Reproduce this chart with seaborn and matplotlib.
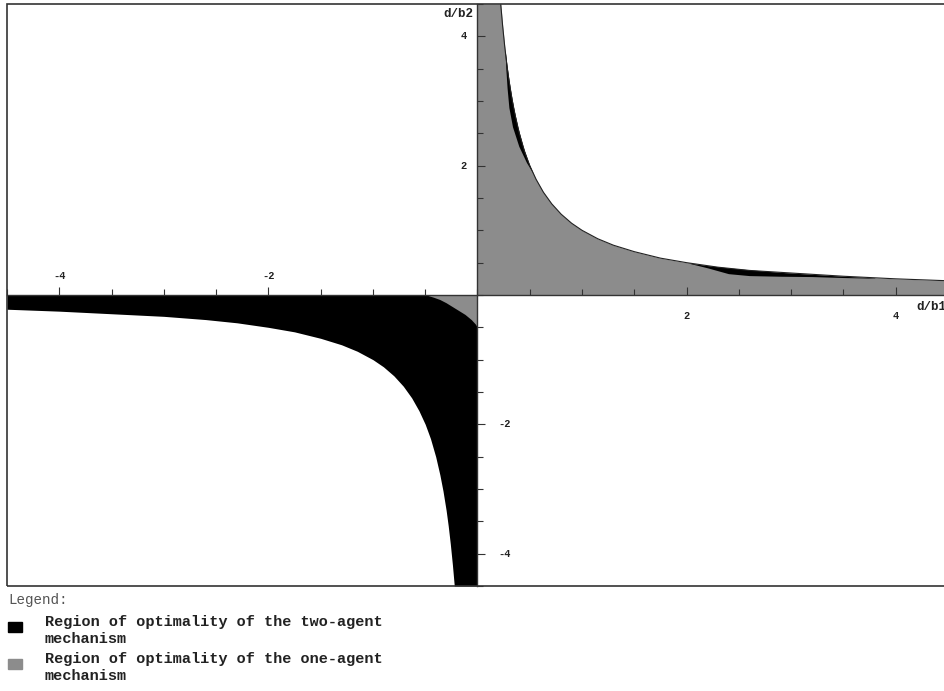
import numpy as np
import matplotlib
matplotlib.use("Agg")
import matplotlib.pyplot as plt
import seaborn as sns
from matplotlib.ticker import MultipleLocator, FixedLocator
from matplotlib.patches import Rectangle

# boundary d/b2 = f(d/b1) in first quadrant
q1_x = [0.0, 0.222, 0.24, 0.26, 0.28, 0.30, 0.33, 0.36, 0.40, 0.45, 0.50, 0.56, 0.63,
        0.71, 0.80, 0.90, 1.00, 1.15, 1.30, 1.50, 1.75, 2.00, 2.30, 2.60, 3.00,
        3.50, 4.00, 4.50]
q1_y = [4.5, 4.5, 4.17, 3.85, 3.57, 3.33, 3.03, 2.78, 2.50, 2.22, 2.00, 1.79, 1.59,
        1.41, 1.25, 1.11, 1.00, 0.87, 0.77, 0.67, 0.57, 0.50, 0.43, 0.38, 0.34,
        0.29, 0.25, 0.22]

# lower edge of the two-agent region in third quadrant
q3_x = [-4.5, -4.0, -3.5, -3.0, -2.6, -2.3, -2.0, -1.75, -1.5, -1.3, -1.15, -1.0,
        -0.9, -0.8, -0.71, -0.63, -0.56, -0.5, -0.45, -0.4, -0.36, -0.33, -0.3,
        -0.28, -0.26, -0.24, -0.222, 0.0]
q3_y = [-0.22, -0.25, -0.29, -0.33, -0.38, -0.43, -0.5, -0.57, -0.67, -0.77, -0.87,
        -1.0, -1.11, -1.25, -1.41, -1.59, -1.79, -2.0, -2.22, -2.5, -2.78, -3.03,
        -3.33, -3.57, -3.85, -4.17, -4.5, -4.5]

# small one-agent patch next to the origin
patch_x = [-0.49, -0.42, -0.36, -0.30, -0.24, -0.18, -0.12, -0.06, -0.02, 0.0]
patch_y = [0.0, -0.035, -0.07, -0.12, -0.18, -0.24, -0.30, -0.38, -0.45, -0.5]

# black slivers along the curve in the first quadrant
sl1_y = [3.80, 3.50, 3.20, 2.90, 2.60, 2.30, 2.05, 1.88]
sl1_xl = [0.263, 0.271, 0.283, 0.300, 0.335, 0.395, 0.468, 0.532]
sl1_xr = [0.263, 0.286, 0.3125, 0.345, 0.385, 0.435, 0.488, 0.532]

sl2_x = [2.0, 2.2, 2.4, 2.6, 2.9, 3.2, 3.5, 3.8]
sl2_lo = [0.50, 0.42, 0.33, 0.30, 0.29, 0.285, 0.27, 0.26]
sl2_hi = [0.50, 0.455, 0.42, 0.39, 0.35, 0.32, 0.29, 0.265]

xticks_major = [-4, -2, 2, 4]
yticks_major = [-4, -2, 2, 4]

GRAY = "#8c8c8c"
BLACK = "#000000"
AXC = "#333333"

sns.set_style("white")
plt.rcParams["font.family"] = ["Liberation Mono", "DejaVu Sans Mono"]

fig = plt.figure(figsize=(9.45, 6.91), dpi=100)
ax = fig.add_axes([7 / 945, (691 - 586) / 691, 941 / 945, 582 / 691])
ax.set_xlim(-4.5, 4.5)
ax.set_ylim(-4.5, 4.5)
ax.set_axisbelow(False)

ax.fill_between(q1_x, 0, q1_y, color=GRAY, lw=0, zorder=1)
ax.fill_between(q3_x, q3_y, 0, color=BLACK, lw=0, zorder=1)
ax.fill_between(patch_x, patch_y, 0, color=GRAY, lw=0, zorder=1.2)
ax.fill_betweenx(sl1_y, sl1_xl, sl1_xr, color=BLACK, lw=0, zorder=1.2)
ax.fill_between(sl2_x, sl2_lo, sl2_hi, color=BLACK, lw=0, zorder=1.2)

sns.lineplot(x=q1_x[1:], y=q1_y[1:], sort=False, color="#222222", lw=0.8, ax=ax, zorder=1.5)

# axes through the origin
for s in ["top", "right"]:
    ax.spines[s].set_visible(False)
ax.spines["left"].set_position("zero")
ax.spines["bottom"].set_position("zero")
for s in ["left", "bottom"]:
    ax.spines[s].set_color(AXC)
    ax.spines[s].set_linewidth(1.0)
    ax.spines[s].set_zorder(4)

ax.xaxis.set_major_locator(FixedLocator(xticks_major))
ax.yaxis.set_major_locator(FixedLocator(yticks_major))
ax.xaxis.set_minor_locator(MultipleLocator(0.5))
ax.yaxis.set_minor_locator(MultipleLocator(0.5))
ax.tick_params(which="both", direction="in", color=AXC, width=0.8,
               labelbottom=False, labelleft=False, bottom=True, left=True)
ax.tick_params(which="major", length=6)
ax.tick_params(which="minor", length=4)
ax.xaxis.set_zorder(4)
ax.yaxis.set_zorder(4)

# frame
ax.add_patch(Rectangle((0, 0), 1, 1, transform=ax.transAxes, fill=False,
                       ec=AXC, lw=1.2, clip_on=False, zorder=5))

lab = dict(fontsize=7.5, fontweight="bold", color="#222222")
for v in xticks_major:
    if v < 0:
        ax.text(v, 0.3, f"-{abs(v)}", ha="center", va="center", **lab)
    else:
        ax.text(v, -0.32, f"{v}", ha="center", va="center", **lab)
for v in yticks_major:
    if v > 0:
        ax.text(-0.1, v, f"{v}", ha="right", va="center", **lab)
    else:
        ax.text(0.2, v, f"-{abs(v)}", ha="left", va="center", **lab)

ax.text(-0.04, 4.34, "d/b2", ha="right", va="center", fontsize=9,
        fontweight="bold", color="#222222")
ax.text(4.2, -0.19, "d/b1", ha="left", va="center", fontsize=9,
        fontweight="bold", color="#222222", clip_on=False)

# legend under the plot
def fy(p):
    return 1 - p / 691

fig.text(8 / 945, fy(600), "Legend:", fontsize=10.3, color="#555555", va="center")
items = [(BLACK, "Region of optimality of the two-agent", 622),
         (GRAY, "Region of optimality of the one-agent", 659)]
for col, txt, py in items:
    fig.patches.append(Rectangle((8 / 945, fy(py + 10)), 14 / 945, 10 / 691,
                                 transform=fig.transFigure, color=col))
    fig.text(45 / 945, fy(py), txt, fontsize=11, fontweight="bold",
             color="#222222", va="center")
    fig.text(45 / 945, fy(py + 17), "mechanism", fontsize=11, fontweight="bold",
             color="#222222", va="center")

fig.savefig("out.png", dpi=100)
